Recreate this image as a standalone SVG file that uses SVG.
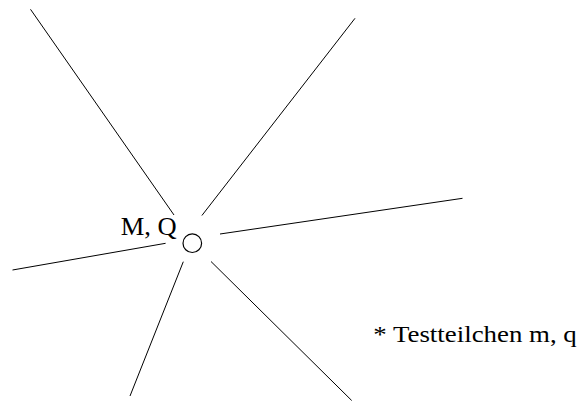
<svg xmlns="http://www.w3.org/2000/svg" width="579" height="402" viewBox="0 0 579 402">
<style>
.ln{stroke:#000;stroke-width:1;fill:none}
.lbl{font-family:"Liberation Serif","DejaVu Serif",serif;fill:#000}
</style>
<rect width="579" height="402" fill="#fff"/>
<g id="connectors">
<line class="ln" x1="30.5" y1="9.3" x2="174" y2="215"/>
<line class="ln" x1="355" y1="18.3" x2="201.9" y2="215.5"/>
<line class="ln" x1="462.5" y1="198.3" x2="220" y2="234"/>
<line class="ln" x1="12.5" y1="270" x2="165.6" y2="243.3"/>
<line class="ln" x1="183.3" y1="261.7" x2="130" y2="396"/>
<line class="ln" x1="211" y1="261.5" x2="351.7" y2="400.5"/>
</g>
<g id="charge">
<circle cx="192.3" cy="243.2" r="9.3" fill="#fff" stroke="#000" stroke-width="1.2"/>
<text class="lbl" x="120.7" y="234.5" font-size="25" textLength="56" lengthAdjust="spacingAndGlyphs">M, Q</text>
</g>
<g id="testparticle">
<text class="lbl" x="373.3" y="341.7" font-size="24" textLength="203.5" lengthAdjust="spacingAndGlyphs">* Testteilchen m, q</text>
</g>
</svg>
